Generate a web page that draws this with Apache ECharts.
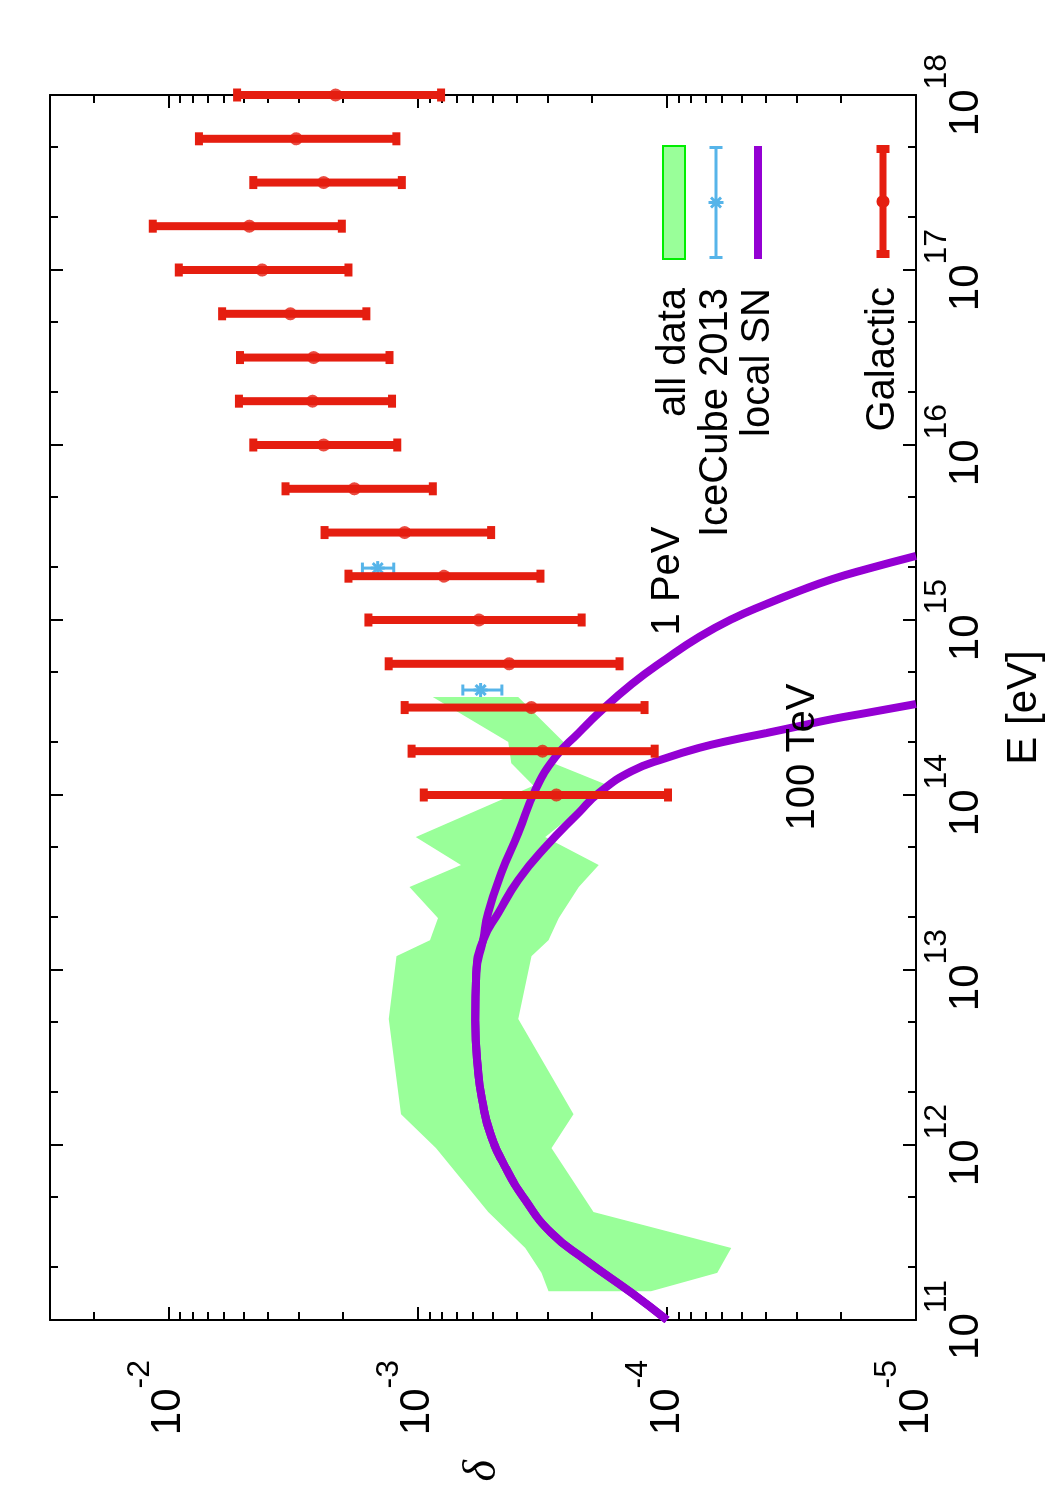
<!DOCTYPE html>
<html><head><meta charset="utf-8">
<script src="https://cdn.jsdelivr.net/npm/echarts@6/dist/echarts.min.js"></script>
<style>
html,body{margin:0;padding:0;width:1050px;height:1500px;overflow:hidden;background:#fff;}
#chart{position:absolute;left:-225px;top:225px;width:1500px;height:1050px;transform:rotate(-90deg);transform-origin:50% 50%;}
</style></head><body><div id="chart"></div>
<script>
// ---------------- data ----------------
// Galactic (red points with error bars)
const galE   = [1e14, 1.78e14, 3.16e14, 5.62e14, 1e15, 1.78e15, 3.16e15, 5.62e15, 1e16, 1.78e16, 3.16e16, 5.62e16, 1e17, 1.78e17, 3.16e17, 5.62e17, 1e18];
const galVal = [2.78e-4, 3.16e-4, 3.50e-4, 4.30e-4, 5.68e-4, 7.85e-4, 1.13e-3, 1.80e-3, 2.39e-3, 2.65e-3, 2.62e-3, 3.25e-3, 4.22e-3, 4.75e-3, 2.39e-3, 3.08e-3, 2.14e-3];
const galHi  = [9.47e-4, 1.06e-3, 1.13e-3, 1.31e-3, 1.58e-3, 1.90e-3, 2.37e-3, 3.40e-3, 4.58e-3, 5.23e-3, 5.18e-3, 6.11e-3, 9.12e-3, 1.16e-2, 4.58e-3, 7.57e-3, 5.32e-3];
const galLo  = [9.9e-5, 1.12e-4, 1.23e-4, 1.55e-4, 2.20e-4, 3.22e-4, 5.08e-4, 8.71e-4, 1.21e-3, 1.27e-3, 1.30e-3, 1.61e-3, 1.90e-3, 2.02e-3, 1.16e-3, 1.22e-3, 8.07e-4];
// IceCube 2013
const icE   = [3.98e14, 1.98e15];
const icVal = [5.6e-4, 1.45e-3];
const icHi  = [6.6e-4, 1.67e-3];
const icLo  = [4.6e-4, 1.25e-3];
// all data (band)
const bandE  = [1.46e11, 1.86e11, 2.58e11, 4.14e11, 9.6e11, 1.50e12, 5.25e12, 1.20e13, 1.48e13, 1.98e13, 2.98e13, 3.98e13, 5.75e13, 1.13e14, 1.52e14, 2.01e14, 3.63e14];
const bandHi = [2.99e-4, 3.19e-4, 3.71e-4, 5.22e-4, 8.45e-4, 1.17e-3, 1.31e-3, 1.22e-3, 8.95e-4, 8.30e-4, 1.08e-3, 6.72e-4, 1.02e-3, 3.43e-4, 4.22e-4, 4.34e-4, 8.71e-4];
const bandLo = [1.16e-4, 6.28e-5, 5.52e-5, 1.97e-4, 2.91e-4, 2.37e-4, 3.95e-4, 3.50e-4, 2.99e-4, 2.72e-4, 2.26e-4, 1.88e-4, 3.08e-4, 1.71e-4, 2.86e-4, 2.60e-4, 3.95e-4];
// local SN, cutoff 1 PeV
const snPeVE = [1e11, 1.426e11, 2.203e11, 3.141e11, 4.853e11, 7.482e11, 1.172e12, 1.807e12, 2.576e12, 5.176e12, 9.616e12, 1.483e13, 2.118e13, 3.581e13, 6.067e13, 1.069e14, 1.648e14, 2.259e14, 2.944e14, 4.305e14, 5.984e14, 8.0e14, 1.014e15, 1.233e15, 1.466e15, 1.714e15, 1.954e15, 2.323e15];
const snPeVV = [1.0e-4, 1.384e-4, 2.123e-4, 2.911e-4, 3.707e-4, 4.457e-4, 5.129e-4, 5.521e-4, 5.728e-4, 5.888e-4, 5.834e-4, 5.47e-4, 5.224e-4, 4.624e-4, 3.954e-4, 3.373e-4, 2.805e-4, 2.265e-4, 1.879e-4, 1.384e-4, 1.009e-4, 7.43e-5, 5.47e-5, 3.99e-5, 2.938e-5, 2.163e-5, 1.578e-5, 1.0e-5];
// local SN, cutoff 100 TeV
const snTeVE = [1e11, 1.426e11, 2.203e11, 3.141e11, 4.853e11, 7.482e11, 1.172e12, 1.807e12, 2.576e12, 5.176e12, 9.616e12, 1.483e13, 2.118e13, 3.266e13, 5.047e13, 7.889e13, 1.026e14, 1.371e14, 1.626e14, 1.858e14, 2.061e14, 2.259e14, 2.477e14, 2.716e14, 2.944e14, 3.311e14];
const snTeVV = [1.0e-4, 1.384e-4, 2.123e-4, 2.911e-4, 3.707e-4, 4.457e-4, 5.129e-4, 5.521e-4, 5.728e-4, 5.888e-4, 5.834e-4, 5.47e-4, 4.753e-4, 3.954e-4, 3.076e-4, 2.265e-4, 1.879e-4, 1.384e-4, 1.009e-4, 7.43e-5, 5.47e-5, 3.99e-5, 2.938e-5, 2.163e-5, 1.578e-5, 1.0e-5];
// tick values
const eMajorTicks = [1e11, 1e12, 1e13, 1e14, 1e15, 1e16, 1e17, 1e18];
const eMinorTicks = [2e11, 5e11, 2e12, 5e12, 2e13, 5e13, 2e14, 5e14, 2e15, 5e15, 2e16, 5e16, 2e17, 5e17];
const dMajorTicks = [1e-5, 1e-4, 1e-3, 1e-2];
const dMinorTicks = [2e-5, 3e-5, 4e-5, 5e-5, 6e-5, 7e-5, 8e-5, 9e-5, 2e-4, 3e-4, 4e-4, 5e-4, 6e-4, 7e-4, 8e-4, 9e-4, 2e-3, 3e-3, 4e-3, 5e-3, 6e-3, 7e-3, 8e-3, 9e-3, 2e-2];

// ---------------- styling ----------------
const FONT = '"Liberation Sans", Arial, Helvetica, sans-serif';
const RED = '#e51e10', PURPLE = '#9400d3', BLUE = '#56b4e9', GREEN = '#99ff99';
const E_MIN = 0.9999999e11, E_MAX = 1.0000001e18, D_MIN = 0.9999999e-5, D_MAX = 3e-2;

function powLabel(v) {
  const e = Math.round(Math.log10(v));
  return '{b|10}{s|' + e + '}';
}
const labelRich = {
  b: {fontSize: 42, fontFamily: FONT, color: '#000', lineHeight: 90},
  s: {fontSize: 32, fontFamily: FONT, color: '#000', verticalAlign: 'top'}
};
const lineBlack = {color: '#000', width: 2};

function axisDef(kind, pos, major, withLabels) {
  const isE = kind === 'E';
  const a = {
    type: 'log', logBase: 10,
    min: isE ? E_MIN : D_MIN, max: isE ? E_MAX : D_MAX,
    position: pos,
    gridIndex: 0,
    axisLine: {show: major, onZero: false, lineStyle: lineBlack},
    axisTick: {show: true, inside: true, length: major ? 13 : 8, lineStyle: lineBlack,
      customValues: major ? (isE ? eMajorTicks : dMajorTicks) : (isE ? eMinorTicks : dMinorTicks)},
    minorTick: {show: false},
    splitLine: {show: false},
    axisLabel: {show: withLabels}
  };
  if (withLabels) {
    a.axisLabel = {show: true, customValues: isE ? eMajorTicks : dMajorTicks,
      formatter: powLabel, rich: labelRich, margin: isE ? 5 : 40, hideOverlap: false,
      showMinLabel: true, showMaxLabel: true};
  }
  return a;
}

const xAxes = [axisDef('E', 'bottom', true, true), axisDef('E', 'bottom', false, false),
               axisDef('E', 'top', true, false), axisDef('E', 'top', false, false)];
xAxes[0].name = 'E [eV]';
xAxes[0].nameLocation = 'middle';
xAxes[0].nameGap = 87;
xAxes[0].nameTextStyle = {fontSize: 42, fontFamily: FONT, color: '#000'};
const yAxes = [axisDef('D', 'left', true, true), axisDef('D', 'left', false, false),
               axisDef('D', 'right', true, false), axisDef('D', 'right', false, false)];
yAxes[0].name = 'δ';
yAxes[0].nameLocation = 'middle';
yAxes[0].nameRotate = 0;
yAxes[0].nameGap = 140;
yAxes[0].nameTextStyle = {fontSize: 46, fontFamily: '"Liberation Serif", "DejaVu Serif", serif', fontStyle: 'italic', color: '#000'};

function errorBarRender(lineW, capLen, color, star) {
  return function (params, api) {
    const x = api.value(0);
    const pLo = api.coord([x, api.value(1)]);
    const pHi = api.coord([x, api.value(2)]);
    const st = {stroke: color, lineWidth: lineW, lineCap: 'butt'};
    const h = capLen / 2;
    const children = [
      {type: 'line', shape: {x1: pLo[0], y1: pLo[1], x2: pHi[0], y2: pHi[1]}, style: st},
      {type: 'line', shape: {x1: pLo[0] - h, y1: pLo[1], x2: pLo[0] + h, y2: pLo[1]}, style: st},
      {type: 'line', shape: {x1: pHi[0] - h, y1: pHi[1], x2: pHi[0] + h, y2: pHi[1]}, style: st}
    ];
    if (star) {
      const c = api.coord([x, api.value(3)]);
      const s = 7, d = 5;
      children.push(
        {type: 'line', shape: {x1: c[0] - s, y1: c[1], x2: c[0] + s, y2: c[1]}, style: st},
        {type: 'line', shape: {x1: c[0], y1: c[1] - s, x2: c[0], y2: c[1] + s}, style: st},
        {type: 'line', shape: {x1: c[0] - d, y1: c[1] - d, x2: c[0] + d, y2: c[1] + d}, style: st},
        {type: 'line', shape: {x1: c[0] - d, y1: c[1] + d, x2: c[0] + d, y2: c[1] - d}, style: st}
      );
    }
    return {type: 'group', children: children};
  };
}

// legend icon paths (style only)
function circlePath(cx, cy, r) {
  let s = '';
  for (let k = 0; k < 24; k++) {
    const a = k * Math.PI / 12;
    s += (k === 0 ? 'M' : 'L') + (cx + r * Math.cos(a)).toFixed(2) + ',' + (cy + r * Math.sin(a)).toFixed(2);
  }
  return s + 'Z';
}
const iconBand = 'path://M0,0H113V22H0Z';
const iconIce = 'path://M0,5H113V8H0Z M0,0H3V13H0Z M110,0H113V13H110Z M55,-1H58V14H55Z M50.44,2.56L52.56,0.44L62.56,10.44L60.44,12.56Z M50.44,10.44L60.44,0.44L62.56,2.56L52.56,12.56Z';
const iconSN = 'path://M0,0H113V8H0Z';
const iconGal = 'path://M0,3H113V10H0Z M0,0H8V13H0Z M105,0H113V13H105Z ' + circlePath(56.5, 6.5, 6.5);

const legendCommon = {
  orient: 'vertical', right: 145, itemWidth: 113, itemHeight: 22, itemGap: 0,
  align: 'right', padding: 0, selectedMode: false, symbolKeepAspect: true,
  textStyle: {fontSize: 40, fontFamily: FONT, color: '#000', lineHeight: 42, padding: [0, 24, 0, 0]}
};

const option = {
  animation: false,
  backgroundColor: '#fff',
  grid: {left: 180, right: 95, top: 50, bottom: 134, containLabel: false},
  xAxis: xAxes,
  yAxis: yAxes,
  legend: [
    Object.assign({}, legendCommon, {top: 653, data: [
      {name: 'all data', icon: iconBand, itemStyle: {color: GREEN, borderColor: '#00ee00', borderWidth: 2}},
      {name: 'IceCube 2013', icon: iconIce, itemStyle: {color: BLUE, borderWidth: 0}},
      {name: 'local SN', icon: iconSN, itemStyle: {color: PURPLE, borderWidth: 0}}
    ]}),
    Object.assign({}, legendCommon, {top: 862, data: [
      {name: 'Galactic', icon: iconGal, itemStyle: {color: RED, borderWidth: 0}}
    ]})
  ],
  graphic: [
    {type: 'text', x: 919, y: 668, z: 10,
      style: {text: '1 PeV', fontSize: 40, fontFamily: FONT, fill: '#000', align: 'center', verticalAlign: 'middle'}},
    {type: 'text', x: 743, y: 803, z: 10,
      style: {text: '100 TeV', fontSize: 40, fontFamily: FONT, fill: '#000', align: 'center', verticalAlign: 'middle'}}
  ],
  series: [
    {
      name: 'all data', type: 'custom', z: 1, silent: true,
      data: bandE.map((e, i) => [e, bandLo[i], bandHi[i]]),
      encode: {x: 0, y: [1, 2]},
      itemStyle: {color: GREEN},
      renderItem: function (params, api) {
        if (params.dataIndex !== 0) return null;
        const pts = [];
        for (let i = 0; i < bandE.length; i++) pts.push(api.coord([bandE[i], bandHi[i]]));
        for (let i = bandE.length - 1; i >= 0; i--) pts.push(api.coord([bandE[i], bandLo[i]]));
        return {type: 'polygon', shape: {points: pts}, style: {fill: GREEN}};
      }
    },
    {
      name: 'IceCube 2013', type: 'custom', z: 2, silent: true,
      data: icE.map((e, i) => [e, icLo[i], icHi[i], icVal[i]]),
      encode: {x: 0, y: [1, 2]},
      itemStyle: {color: BLUE},
      renderItem: errorBarRender(3, 11, BLUE, true)
    },
    {
      name: 'local SN', type: 'line', z: 3, silent: true, showSymbol: false, symbol: 'none',
      smooth: 0.5,
      data: snPeVE.map((e, i) => [e, snPeVV[i]]),
      lineStyle: {color: PURPLE, width: 8}, itemStyle: {color: PURPLE}
    },
    {
      name: 'local SN', type: 'line', z: 3, silent: true, showSymbol: false, symbol: 'none',
      smooth: 0.5,
      data: snTeVE.map((e, i) => [e, snTeVV[i]]),
      lineStyle: {color: PURPLE, width: 8}, itemStyle: {color: PURPLE}
    },
    {
      name: 'Galactic', type: 'custom', z: 4, silent: true,
      data: galE.map((e, i) => [e, galLo[i], galHi[i]]),
      encode: {x: 0, y: [1, 2]},
      itemStyle: {color: RED},
      renderItem: errorBarRender(8, 13, RED, false)
    },
    {
      name: 'Galactic', type: 'scatter', z: 5, silent: true,
      data: galE.map((e, i) => [e, galVal[i]]),
      symbol: 'circle', symbolSize: 13, itemStyle: {color: RED}
    }
  ]
};

const chart = echarts.init(document.getElementById('chart'), null, {renderer: 'canvas', width: 1500, height: 1050});
chart.setOption(option);
</script>
</body></html>
